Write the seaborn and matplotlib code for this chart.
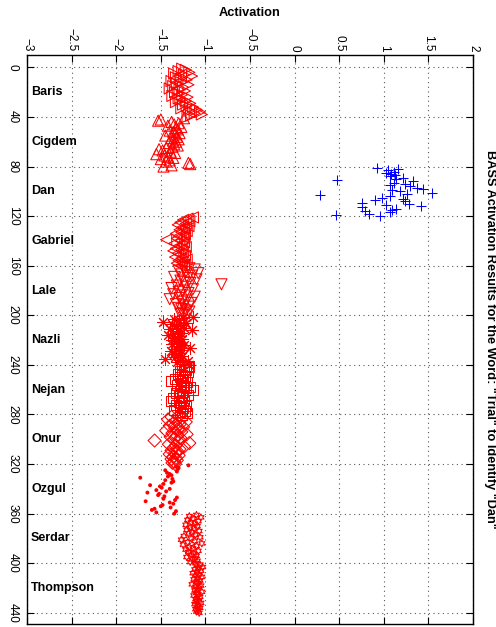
import numpy as np
import pandas as pd
import matplotlib
matplotlib.use("Agg")
import matplotlib.pyplot as plt
import seaborn as sns

# Speakers, 40 activation scores each (sample index runs 1..440)
speakers = ["Baris", "Cigdem", "Dan", "Gabriel", "Lale", "Nazli",
            "Nejan", "Onur", "Ozgul", "Serdar", "Thompson"]

baris = [-1.26, -1.22, -1.30, -1.18, -1.35, -1.24, -1.15, -1.33, -1.28, -1.21,
         -1.38, -1.27, -1.32, -1.19, -1.36, -1.25, -1.40, -1.29, -1.23, -1.34,
         -1.31, -1.26, -1.37, -1.20, -1.30, -1.28, -1.22, -1.33, -1.17, -1.25,
         -1.21, -1.14, -1.27, -1.10, -1.18, -1.06, -1.12, -1.04, -1.16, -1.20]
cigdem = [-1.24, -1.50, -1.53, -1.38, -1.30, -1.35, -1.42, -1.27, -1.33, -1.31,
          -1.40, -1.36, -1.29, -1.34, -1.45, -1.32, -1.38, -1.30, -1.36, -1.33,
          -1.41, -1.35, -1.31, -1.37, -1.44, -1.52, -1.48, -1.39, -1.34, -1.55,
          -1.46, -1.42, -1.36, -1.50, -1.40, -1.44, -1.19, -1.17, -1.38, -1.47]
dan = [0.92, 1.16, 1.05, 1.11, 1.02, 1.08, 1.13, 1.07, 1.22, 1.14,
       0.48, 1.33, 1.11, 1.24, 1.07, 1.29, 1.37, 1.44, 1.09, 1.18,
       1.54, 1.26, 0.285, 1.07, 0.98, 1.22, 0.90, 1.24, 0.75, 1.28,
       1.03, 1.42, 0.75, 1.14, 1.09, 0.79, 1.07, 0.83, 0.46, 0.96]
gabriel = [-1.14, -1.20, -1.25, -1.18, -1.28, -1.22, -1.31, -1.19, -1.26, -1.24,
           -1.29, -1.21, -1.27, -1.33, -1.23, -1.30, -1.25, -1.32, -1.44, -1.28,
           -1.24, -1.35, -1.26, -1.30, -1.22, -1.33, -1.27, -1.36, -1.25, -1.31,
           -1.29, -1.23, -1.34, -1.27, -1.21, -1.30, -1.26, -1.32, -1.24, -1.28]
lale = [-1.25, -1.18, -1.12, -1.30, -1.22, -1.08, -1.27, -1.15, -1.35, -1.20,
        -1.10, -1.28, -1.24, -1.17, -0.82, -1.32, -1.22, -1.38, -1.14, -1.26,
        -1.30, -1.19, -1.36, -1.23, -1.12, -1.29, -1.40, -1.21, -1.26, -1.16,
        -1.33, -1.24, -1.19, -1.30, -1.27, -1.22, -1.18, -1.25, -1.28, -1.21]
nazli = [-1.14, -1.25, -1.35, -1.30, -1.48, -1.22, -1.38, -1.28, -1.33, -1.24,
         -1.40, -1.15, -1.31, -1.27, -1.36, -1.42, -1.29, -1.34, -1.26, -1.38,
         -1.32, -1.28, -1.37, -1.24, -1.30, -1.17, -1.33, -1.27, -1.39, -1.29,
         -1.35, -1.31, -1.26, -1.34, -1.45, -1.28, -1.20, -1.32, -1.25, -1.18]
nejan = [-1.20, -1.18, -1.24, -1.22, -1.28, -1.19, -1.31, -1.26, -1.23, -1.29,
         -1.34, -1.25, -1.38, -1.21, -1.27, -1.32, -1.24, -1.17, -1.22, -1.14,
         -1.28, -1.25, -1.33, -1.20, -1.30, -1.26, -1.36, -1.24, -1.39, -1.30,
         -1.27, -1.33, -1.22, -1.29, -1.25, -1.35, -1.23, -1.28, -1.21, -1.26]
onur = [-1.30, -1.38, -1.26, -1.42, -1.33, -1.22, -1.36, -1.29, -1.40, -1.25,
        -1.34, -1.31, -1.44, -1.27, -1.37, -1.21, -1.32, -1.39, -1.28, -1.35,
        -1.57, -1.30, -1.18, -1.41, -1.33, -1.24, -1.36, -1.29, -1.38, -1.31,
        -1.34, -1.40, -1.30, -1.36, -1.33, -1.38, -1.32, -1.35, -1.37, -1.34]
ozgul = [-1.19, -1.33, -1.30, -1.31, -1.45, -1.32, -1.43, -1.40, -1.38, -1.42,
         -1.73, -1.37, -1.45, -1.36, -1.38, -1.47, -1.62, -1.51, -1.49, -1.40,
         -1.55, -1.44, -1.65, -1.52, -1.53, -1.46, -1.32, -1.47, -1.34, -1.67,
         -1.40, -1.36, -1.48, -1.50, -1.39, -1.57, -1.60, -1.33, -1.55, -1.35]
serdar = [-1.10, -1.18, -1.05, -1.14, -1.20, -1.08, -1.16, -1.12, -1.22, -1.09,
          -1.17, -1.13, -1.21, -1.07, -1.15, -1.19, -1.11, -1.24, -1.06, -1.16,
          -1.27, -1.12, -1.20, -1.04, -1.25, -1.10, -1.18, -1.14, -1.22, -1.08,
          -1.19, -1.13, -1.16, -1.10, -1.21, -1.12, -1.15, -1.09, -1.17, -1.11]
thompson = [-1.06, -1.10, -1.03, -1.08, -1.12, -1.05, -1.09, -1.14, -1.07, -1.11,
            -1.04, -1.09, -1.13, -1.06, -1.10, -1.08, -1.15, -1.05, -1.11, -1.07,
            -1.09, -1.12, -1.04, -1.10, -1.08, -1.13, -1.06, -1.09, -1.11, -1.07,
            -1.10, -1.05, -1.12, -1.08, -1.09, -1.06, -1.11, -1.08, -1.10, -1.07]

scores = [baris, cigdem, dan, gabriel, lale, nazli, nejan, onur, ozgul, serdar, thompson]
target = "Dan"
title = 'BASS Activation Results for the Word: "Trial" to Identify "Dan"'
x_ticks = [-3, -2.5, -2, -1.5, -1, -0.5, 0, 0.5, 1, 1.5, 2]
y_ticks = list(range(0, 441, 40))

# marker style per speaker: (marker, size, hollow outline)
styles = {
    "Baris": (">", 64, True),
    "Cigdem": ("^", 64, True),
    "Dan": ("+", 52, False),
    "Gabriel": ("<", 64, True),
    "Lale": ("v", 64, True),
    "Nazli": ((8, 2, 0), 72, False),
    "Nejan": ("s", 52, True),
    "Onur": ("D", 44, True),
    "Ozgul": ("o", 8, None),
    "Serdar": ((6, 1, 0), 26, True),
    "Thompson": ((6, 1, 0), 26, True),
}

n_per = len(baris)
frames = []
for k, (name, vals) in enumerate(zip(speakers, scores)):
    frames.append(pd.DataFrame({
        "speaker": name,
        "sample": np.arange(k * n_per + 1, (k + 1) * n_per + 1),
        "activation": vals,
    }))
df = pd.concat(frames, ignore_index=True)

sns.set_theme(style="white")
plt.rcParams["font.family"] = ["Liberation Sans", "DejaVu Sans"]

W, H = 496, 627
fig = plt.figure(figsize=(W / 100, H / 100), dpi=100)
ax = fig.add_axes([27 / W, 3 / H, (473 - 27) / W, (624 - 55) / H])

for name in speakers:
    sub = df[df["speaker"] == name]
    col = "blue" if name == target else "red"
    marker, size, hollow = styles[name]
    if hollow is None:
        # small solid dots
        sns.scatterplot(data=sub, x="activation", y="sample", ax=ax, marker=marker,
                        s=size, color=col, edgecolor="none", linewidth=0, legend=False)
    elif hollow:
        sns.scatterplot(data=sub, x="activation", y="sample", ax=ax, marker=marker,
                        s=size, color=col, facecolor="none", edgecolor=col,
                        linewidth=0.75, legend=False)
    else:
        sns.scatterplot(data=sub, x="activation", y="sample", ax=ax, marker=marker,
                        s=size, color=col, linewidth=0.75, legend=False)

ax.set_xlim(-3, 2)
ax.set_ylim(449, -10)
ax.set_xticks(x_ticks)
ax.set_xticklabels([f"{t:g}".replace("-", "\u2212") for t in x_ticks])
ax.set_yticks(y_ticks)
ax.set_yticklabels([str(t) for t in y_ticks])
ax.set_ylabel("")

ax.xaxis.tick_top()
ax.tick_params(axis="both", which="both", direction="in", length=5, width=0.8,
               top=True, bottom=True, left=True, right=True,
               labeltop=True, labelbottom=False, labelsize=8.5, colors="black")
ax.tick_params(axis="x", pad=2.5)
ax.tick_params(axis="y", pad=6)
for lab in ax.get_xticklabels():
    lab.set_rotation(-90)
    lab.set_ha("center")
    lab.set_va("bottom")
for lab in ax.get_yticklabels():
    lab.set_rotation(-90)
    lab.set_ha("right")
    lab.set_va("center")

ax.grid(True, linestyle=(0, (1, 3.2)), color="0.35", linewidth=0.8)
for sp in ax.spines.values():
    sp.set_visible(True)
    sp.set_color("black")
    sp.set_linewidth(1.0)

ax.set_xlabel("Activation", fontsize=9.2, fontweight="bold", color="black")
ax.xaxis.set_label_position("top")
ax.xaxis.set_label_coords(0.5, (H - 13 - 3) / (624 - 55))
ax.xaxis.label.set_va("center")

# speaker names along the left edge, centred on each block of samples
for k, name in enumerate(speakers):
    ax.text(-2.955, k * n_per + n_per / 2, name, fontsize=9, fontweight="bold",
            ha="left", va="center", color="black")

fig.text(490 / W, (3 + (624 - 55) / 2) / H, title, rotation=-90, ha="center",
         va="center", fontsize=9.2, fontweight="bold", color="black")

fig.savefig("out.png", dpi=100)
